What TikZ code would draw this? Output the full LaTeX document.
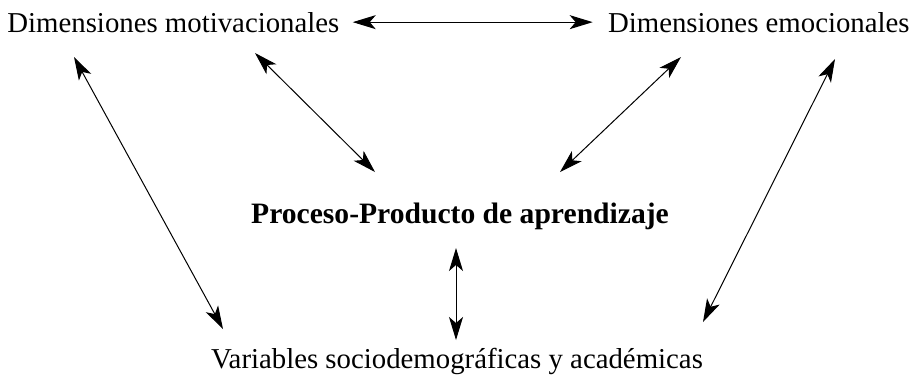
\documentclass[tikz,border=0pt]{standalone}
\usepackage{fontspec}
\setmainfont{Liberation Serif}
\usepackage{tikz}
\usetikzlibrary{arrows.meta,positioning}

\begin{document}
\begin{tikzpicture}[x=0.5pt,y=-0.5pt]
\tikzstyle{dimtext}=[inner sep=0pt, font=\fontsize{14.4}{17}\selectfont]
\tikzstyle{twoway}=[{Stealth[length=11.5pt,width=7pt,inset=3pt]}-{Stealth[length=11.5pt,width=7pt,inset=3pt]}, line width=0.5pt]
\useasboundingbox (0,0) rectangle (919,382);
% textos
\node[dimtext, anchor=base west] (motiv) at (7,32) {Dimensiones motivacionales};
\node[dimtext, anchor=base east] (emoc) at (910,32) {Dimensiones emocionales};
\node[dimtext, anchor=base, font=\fontsize{14.8}{17}\selectfont\bfseries] (proc) at (460,223) {Proceso-Producto de aprendizaje};
\node[dimtext, anchor=base] (vars) at (457,368) {Variables sociodemográficas y académicas};
% extremos de las flechas
\coordinate (motivL) at (74,57);
\coordinate (varsL) at (223,329);
\coordinate (motivR) at (255,53);
\coordinate (procL) at (375,172);
\coordinate (emocL) at (681,57);
\coordinate (procR) at (560,172);
\coordinate (emocR) at (835,59);
\coordinate (varsR) at (703,322);
\coordinate (procB) at (456,248);
\coordinate (varsT) at (456,340);
% flechas
\draw[twoway] ([xshift=6.5pt]motiv.east) -- ([xshift=-7.5pt]emoc.west);
\draw[twoway] (motivL) -- (varsL);
\draw[twoway] (motivR) -- (procL);
\draw[twoway] (emocL) -- (procR);
\draw[twoway] (emocR) -- (varsR);
\draw[twoway] (procB) -- (varsT);
\end{tikzpicture}
\end{document}
